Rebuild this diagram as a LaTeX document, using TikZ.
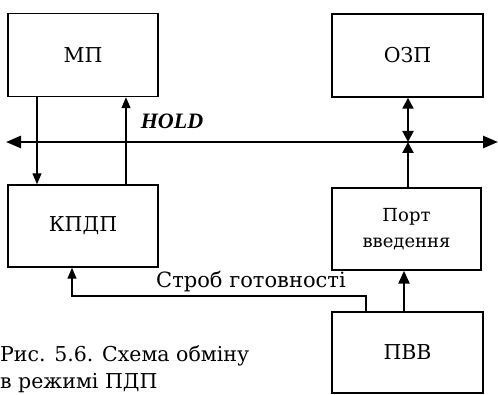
\documentclass[tikz,border=0pt]{standalone}
\usepackage{fontspec}
\setmainfont{DejaVu Serif}
\newfontfamily\holdfont{Liberation Serif}
\newfontfamily\portfamily{DejaVu Serif}
\usetikzlibrary{arrows.meta}
\newcommand{\boxfont}{\fontsize{20.5}{24}\selectfont}
\begin{document}
\begin{tikzpicture}[x=1pt,y=-1pt,
  blk/.style={draw,line width=1.4pt,minimum width=150pt,minimum height=83pt,inner sep=0pt,font=\boxfont,align=center},
  portblk/.style={draw,line width=1.4pt,minimum width=149pt,minimum height=82pt,inner sep=0pt,font=\portfamily\fontsize{18}{26}\selectfont,align=center},
  tip/.style={-{Triangle[length=11pt,width=9pt]}},
  thinline/.style={line width=1.2pt},
  thickline/.style={line width=2.6pt},
  lbl/.style={inner sep=0pt,font=\fontsize{21}{24}\selectfont}]
\useasboundingbox (0,0) rectangle (498,395);
\node[blk] (mp) at (83,55) {МП};
\node[blk,minimum width=151pt] (ozp) at (407.5,55.5) {ОЗП};
\node[blk,minimum height=82pt] (kpdp) at (83,226) {КПДП};
\node[portblk] (port) at (406.5,229) {Порт\\введення};
\node[blk,minimum width=151pt,minimum height=81pt] (pvv) at (407.5,352.5) {ПВВ};
% bus
\coordinate (busL) at (6,142);
\coordinate (busR) at (498,142);
\draw[thickline,{Triangle[length=15pt,width=12pt]}-{Triangle[length=15pt,width=12pt]}] (busL) -- (busR);
\coordinate (busO) at (408,142);
\node[lbl,font=\holdfont\fontsize{22}{24}\selectfont\bfseries\itshape] (hold) at (172,121) {HOLD};
% MP <-> KPDP
\draw[thinline,tip] (mp.south -| 37,0) -- (kpdp.north -| 37,0);
\draw[thinline,tip] (kpdp.north -| 126,0) -- (mp.south -| 126,0);
% OZP <-> bus
\draw[line width=2.2pt,{Triangle[length=11pt,width=11pt]}-{Triangle[length=11pt,width=11pt]}] (ozp.south -| busO) -- (busO);
\draw[line width=2.2pt,-{Triangle[length=11pt,width=11pt]}] (port.north -| busO) -- (busO);
% PVV -> Port
\draw[thickline,-{Triangle[length=13pt,width=11pt]}] (pvv.north -| 404,0) -- (port.south -| 404,0);
% strobe
\draw[thinline,tip] (pvv.north -| 366,0) |- (72,296) -- (kpdp.south -| 72,0);
\node[lbl] (strob) at (251,282) {Строб готовності};
% caption
\node[lbl,anchor=north west,align=left,font=\fontsize{20.5}{27}\selectfont] (cap) at (0,345) {Рис. 5.6. Схема обміну\\в режимі ПДП};
\end{tikzpicture}
\end{document}
